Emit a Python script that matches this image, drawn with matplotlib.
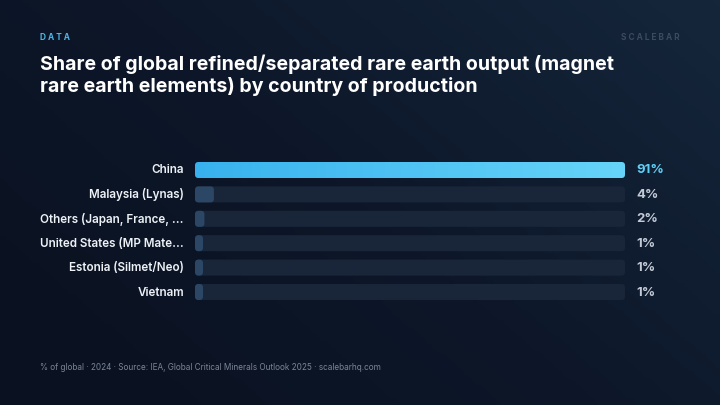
import numpy as np
import matplotlib
matplotlib.use("Agg")
import matplotlib.pyplot as plt
from matplotlib.patches import FancyBboxPatch
from matplotlib.colors import LinearSegmentedColormap

# data
countries = ["China", "Malaysia (Lynas)", "Others (Japan, France, ...",
             "United States (MP Mate...", "Estonia (Silmet/Neo)", "Vietnam"]
shares = [91, 4, 2, 1, 1, 1]
value_labels = ["91%", "4%", "2%", "1%", "1%", "1%"]

title = ("Share of global refined/separated rare earth output (magnet\n"
         "rare earth elements) by country of production")
footnote = "% of global · 2024 · Source: IEA, Global Critical Minerals Outlook 2025 · scalebarhq.com"

plt.rcParams['font.family'] = ['Inter', 'DejaVu Sans']

W, H = 720, 405
fig = plt.figure(figsize=(W / 100, H / 100), dpi=100)

# background gradient
bg = fig.add_axes([0, 0, 1, 1], zorder=-10)
gx = np.linspace(0, 1, 200)
gy = np.linspace(0, 1, 120)
X, Y = np.meshgrid(gx, gy)
grad = 0.6 * X + 0.4 * (1 - Y)
bg_cmap = LinearSegmentedColormap.from_list("bg", ["#0a1120", "#0d1729", "#15263b"])
bg.imshow(grad, cmap=bg_cmap, aspect="auto", extent=[0, 1, 0, 1], origin="upper")
bg.set_axis_off()

# bar axes: x 195..625 px, rows centred 170..292 px
row_px = 24.4
top_px = 170 - row_px / 2
bot_px = top_px + row_px * len(countries)
ax = fig.add_axes([195 / W, (H - bot_px) / H, 430 / W, (bot_px - top_px) / H])
ax.set_xlim(0, max(shares))
ax.set_ylim(len(countries) - 0.5, -0.5)
ax.set_axis_off()
ax.patch.set_alpha(0)

xu = max(shares) / 430.0   # x units per px
yu = 1.0 / row_px          # y units per px
aspect = yu / xu
bar_h = 16 * yu
rad = 3.5 * xu
min_w = 8 * xu

grad_cmap = LinearSegmentedColormap.from_list("bar", ["#38b2ee", "#66d4f8"])

for i, (name, v, lab) in enumerate(zip(countries, shares, value_labels)):
    # track
    track = FancyBboxPatch((0, i - bar_h / 2), max(shares), bar_h,
                           boxstyle=f"round,pad=0,rounding_size={rad}",
                           mutation_aspect=aspect, fc="#19263a", ec="none", zorder=1)
    ax.add_patch(track)
    w = max(v, min_w)
    bar = FancyBboxPatch((0, i - bar_h / 2), w, bar_h,
                         boxstyle=f"round,pad=0,rounding_size={rad}",
                         mutation_aspect=aspect, fc="#2b4765", ec="none", zorder=2)
    ax.add_patch(bar)
    if i == 0:
        bar.set_facecolor("none")
        im = ax.imshow(np.linspace(0, 1, 256).reshape(1, -1), cmap=grad_cmap,
                       aspect="auto", extent=[0, w, i + bar_h / 2, i - bar_h / 2],
                       zorder=3)
        im.set_clip_path(bar)
        ax.set_xlim(0, max(shares))
        ax.set_ylim(len(countries) - 0.5, -0.5)
    # category label
    fig.text(184 / W, 1 - (170.5 + row_px * i) / H, name, ha="right", va="center",
             fontsize=8.4, fontweight="semibold", color="#eef2f7")
    # value label
    fig.text(636 / W, 1 - (170.5 + row_px * i) / H, lab, ha="left", va="center",
             fontsize=9.5, fontweight="bold",
             color="#5fcff6" if i == 0 else "#c3cad6")

# header
fig.text(40 / W, 1 - 38 / H, "D A T A", fontsize=6.0, fontweight="bold",
         color="#4fb4e2", va="center", ha="left")
fig.text(680 / W, 1 - 38 / H, "S C A L E B A R", fontsize=6.0, fontweight="bold",
         color="#3b4a5e", va="center", ha="right")
fig.text(40 / W, 1 - 54 / H, title, fontsize=14.1, fontweight="bold",
         color="#ffffff", va="top", ha="left", linespacing=1.2)

fig.text(40 / W, 1 - 367 / H, footnote, fontsize=5.9, color="#7b8596",
         va="center", ha="left")

fig.savefig("out.png", dpi=100)
